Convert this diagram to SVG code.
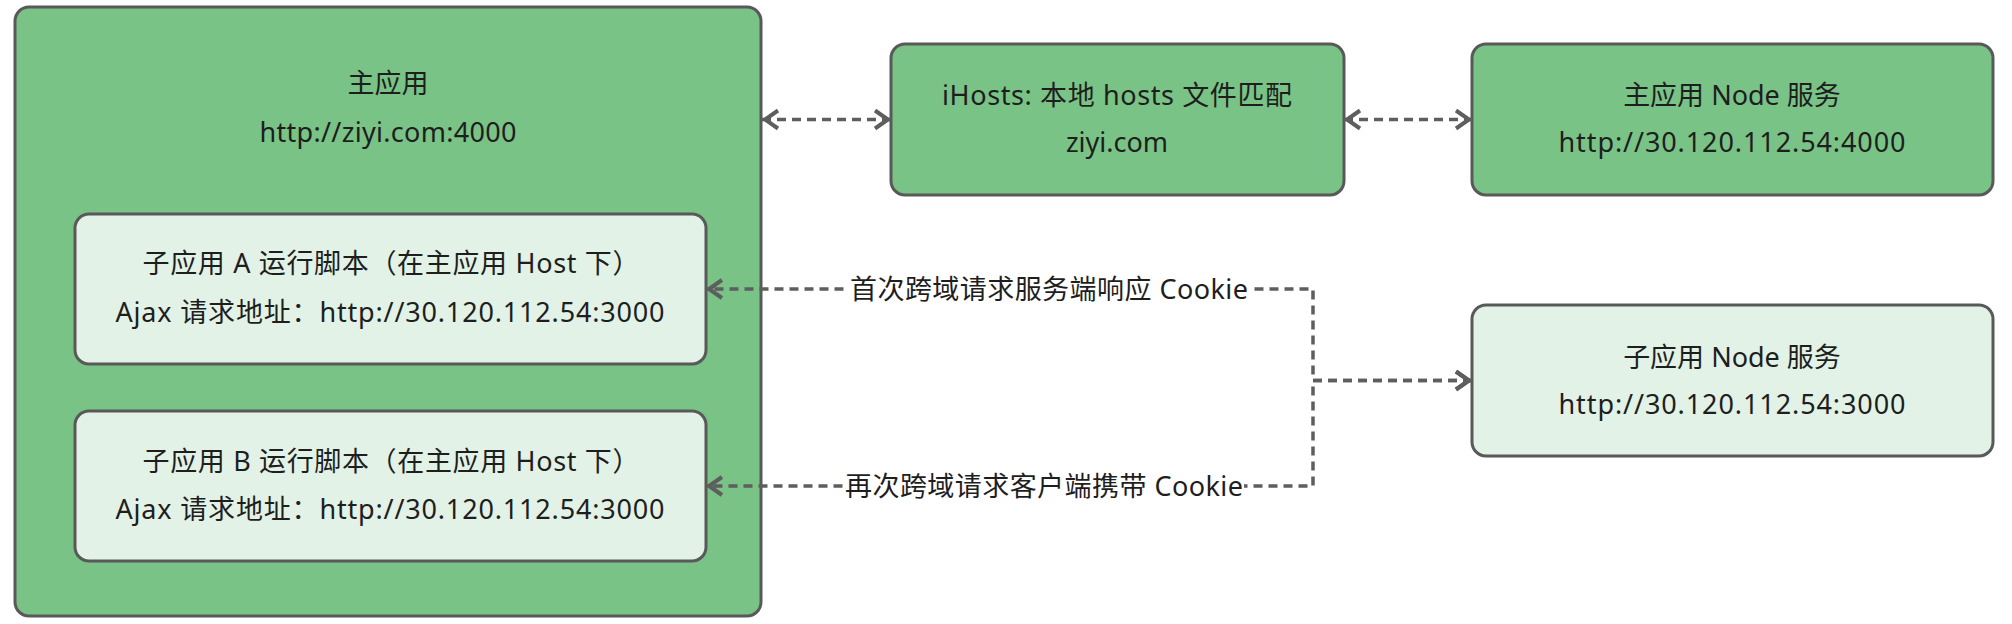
<svg xmlns="http://www.w3.org/2000/svg" width="2012" height="624" viewBox="0 0 2012 624">
<style>
.dark{fill:#79c386;stroke:#595959;stroke-width:3}
.light{fill:#e2f2e6;stroke:#595959;stroke-width:3}
text{font-family:"Noto Sans","Noto Sans CJK SC",sans-serif;font-size:27px;fill:#1e1e1e;text-anchor:middle}
.conn{fill:none;stroke:#5e5e5e;stroke-width:3.5;stroke-dasharray:9 6}
.lblbg{fill:#ffffff}
</style>
<defs>
<marker id="arr" markerUnits="userSpaceOnUse" markerWidth="34" markerHeight="34" viewBox="-24 -17 34 34" refX="3" refY="0" orient="auto-start-reverse">
<path d="M-13,-9 L0,0 L-13,9" fill="none" stroke="#5e5e5e" stroke-width="4"/>
</marker>
</defs>
<rect width="2012" height="624" fill="#ffffff"/>
<g id="main-app">
<rect class="dark" x="15" y="7" width="746" height="609" rx="14"/>
<text x="388" y="93">主应用</text>
<text x="388" y="142" textLength="257">http://ziyi.com:4000</text>
</g>
<g id="sub-a">
<rect class="light" x="75" y="214" width="631" height="150" rx="14"/>
<text x="391" y="273" textLength="497">子应用 A 运行脚本（在主应用 Host 下）</text>
<text x="390" y="322" textLength="549">Ajax 请求地址：http://30.120.112.54:3000</text>
</g>
<g id="sub-b">
<rect class="light" x="75" y="411" width="631" height="150" rx="14"/>
<text x="391" y="471" textLength="497">子应用 B 运行脚本（在主应用 Host 下）</text>
<text x="390" y="519" textLength="549">Ajax 请求地址：http://30.120.112.54:3000</text>
</g>
<g id="ihosts">
<rect class="dark" x="891" y="44" width="453" height="151" rx="14"/>
<text x="1117" y="105" textLength="350">iHosts: 本地 hosts 文件匹配</text>
<text x="1117" y="152">ziyi.com</text>
</g>
<g id="main-node">
<rect class="dark" x="1472" y="44" width="521" height="151" rx="14"/>
<text x="1732" y="105">主应用 Node 服务</text>
<text x="1732" y="152" textLength="347">http://30.120.112.54:4000</text>
</g>
<g id="sub-node">
<rect class="light" x="1472" y="305" width="521" height="151" rx="14"/>
<text x="1732" y="367">子应用 Node 服务</text>
<text x="1732" y="414" textLength="347">http://30.120.112.54:3000</text>
</g>
<g id="connectors">
<path class="conn" d="M762,119.5 H891" marker-start="url(#arr)" marker-end="url(#arr)"/>
<path class="conn" d="M1344,119.5 H1472" marker-start="url(#arr)" marker-end="url(#arr)"/>
<path class="conn" d="M1472,380.5 H1313 V289 H706" marker-start="url(#arr)" marker-end="url(#arr)"/>
<path class="conn" d="M1472,380.5 H1313 V486 H706" marker-start="url(#arr)" marker-end="url(#arr)"/>
<rect class="lblbg" x="849" y="273" width="400" height="32"/>
<text x="1049" y="299" textLength="398">首次跨域请求服务端响应 Cookie</text>
<rect class="lblbg" x="844" y="470" width="400" height="32"/>
<text x="1044" y="496" textLength="398">再次跨域请求客户端携带 Cookie</text>
</g>
</svg>
